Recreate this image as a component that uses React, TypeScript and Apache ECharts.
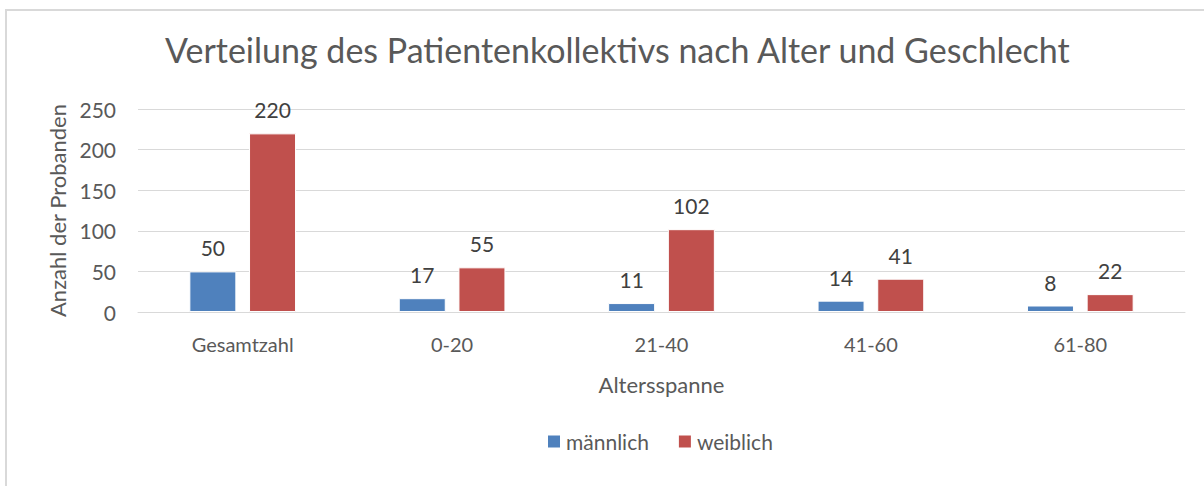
import React, { useEffect, useRef } from "react";
import * as echarts from "echarts";

const categories = ["Gesamtzahl", "0-20", "21-40", "41-60", "61-80"];
const maleValues = [50, 17, 11, 14, 8];
const femaleValues = [220, 55, 102, 41, 22];
const seriesNames = ["männlich", "weiblich"];
const titleText = "Verteilung des Patientenkollektivs nach Alter und Geschlecht";
const xAxisName = "Altersspanne";
const yAxisName = "Anzahl der Probanden";

const FONT = "Lato";

export default function App() {
  const ref = useRef<HTMLDivElement>(null);
  useEffect(() => {
    const chart = echarts.init(ref.current!, null, { renderer: "svg" });
    const label = {
      show: true,
      position: "top",
      distance: 13,
      color: "#404040",
      fontSize: 21,
      fontFamily: FONT,
    };
    chart.setOption({
      animation: false,
      backgroundColor: "#ffffff",
      graphic: [
        {
          type: "rect",
          shape: { x: 6, y: 10, width: 1220, height: 500 },
          style: { fill: "none", stroke: "#d9d9d9", lineWidth: 2 },
          silent: true,
        },
      ],
      title: {
        text: titleText,
        left: 160,
        top: 27,
        textStyle: { color: "#595959", fontSize: 34, fontWeight: "normal", fontFamily: FONT },
      },
      legend: {
        data: seriesNames,
        top: 426,
        left: 541,
        itemWidth: 14,
        itemHeight: 14,
        itemGap: 28,
        icon: "rect",
        textStyle: { color: "#595959", fontSize: 21, fontFamily: FONT },
      },
      grid: { left: 138, right: 19, top: 109, bottom: 174, containLabel: false },
      xAxis: {
        type: "category",
        data: categories,
        name: xAxisName,
        nameLocation: "middle",
        nameGap: 61,
        nameTextStyle: { color: "#595959", fontSize: 22, fontFamily: FONT },
        axisLine: { show: true, lineStyle: { color: "#d9d9d9", width: 1 } },
        axisTick: { show: false },
        axisLabel: { color: "#595959", fontSize: 20, fontFamily: FONT, margin: 22 },
      },
      yAxis: {
        type: "value",
        min: 0,
        max: 250,
        interval: 50,
        name: yAxisName,
        nameLocation: "middle",
        nameGap: 68,
        nameTextStyle: { color: "#595959", fontSize: 22, fontFamily: FONT },
        axisLine: { show: false },
        axisTick: { show: false },
        axisLabel: { color: "#595959", fontSize: 21, fontFamily: FONT, margin: 22 },
        splitLine: { lineStyle: { color: "#d9d9d9", width: 1 } },
      },
      series: [
        {
          name: seriesNames[0],
          type: "bar",
          data: maleValues,
          barWidth: 47,
          barGap: "27%",
          itemStyle: { color: "#4f81bd", borderColor: "#ffffff", borderWidth: 1 },
          label,
        },
        {
          name: seriesNames[1],
          type: "bar",
          data: femaleValues,
          barWidth: 47,
          itemStyle: { color: "#c0504d", borderColor: "#ffffff", borderWidth: 1 },
          label,
        },
      ],
    });
    return () => chart.dispose();
  }, []);
  return <div ref={ref} style={{ width: 1204, height: 486, position: "absolute", left: 0, top: 0 }} />;
}
